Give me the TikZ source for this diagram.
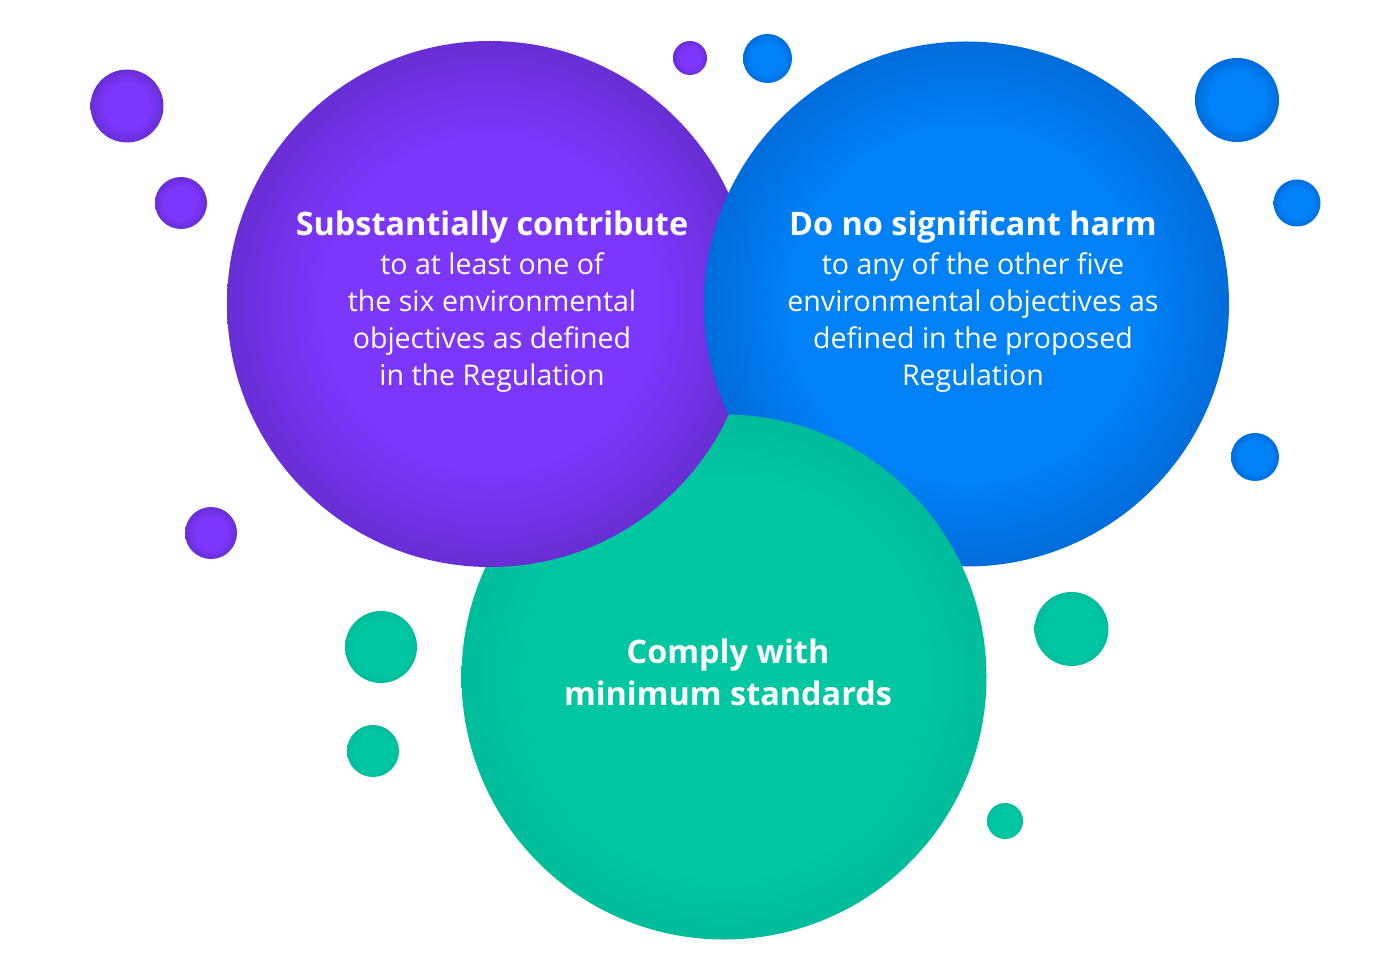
\documentclass[tikz,border=0pt]{standalone}
\usepackage{fontspec}
\setmainfont{Open Sans}
\usetikzlibrary{positioning}

\definecolor{purplemain}{RGB}{124,54,252}
\definecolor{purplerim}{RGB}{104,46,212}
\definecolor{bluemain}{RGB}{0,129,245}
\definecolor{bluerim}{RGB}{0,108,220}
\definecolor{greenmain}{RGB}{0,198,162}
\definecolor{greenrim}{RGB}{0,188,154}

% rim of the circle sits at 25bp
\pgfdeclareradialshading{purplebub}{\pgfpoint{0bp}{0bp}}{color(0bp)=(purplemain); color(16bp)=(purplemain); color(25bp)=(purplerim); color(50bp)=(purplerim)}
\pgfdeclareradialshading{bluebub}{\pgfpoint{0bp}{0bp}}{color(0bp)=(bluemain); color(17bp)=(bluemain); color(25bp)=(bluerim); color(50bp)=(bluerim)}
\pgfdeclareradialshading{greenbub}{\pgfpoint{0bp}{0bp}}{color(0bp)=(greenmain); color(19bp)=(greenmain); color(25bp)=(greenrim); color(50bp)=(greenrim)}

\tikzset{every picture/.style={line width=0.75pt},
  purplefill/.style={shading=purplebub},
  bluefill/.style={shading=bluebub},
  greenfill/.style={shading=greenbub},
  titletext/.style={anchor=base,inner sep=0pt,text=white,align=center,font=\fontsize{24.3pt}{31.5pt}\selectfont\bfseries},
  bodytext/.style={anchor=base,inner sep=0pt,text=white,align=center,font=\fontsize{21.4pt}{27.75pt}\selectfont}}

\begin{document}
\begin{tikzpicture}[x=0.75pt,y=0.75pt,yscale=-1,xscale=1]
\useasboundingbox (0,0) rectangle (1400,980);

%Shape: Circle small purple
\shade [purplefill] (127,106) circle (36.5);
\shade [purplefill] (181,203) circle (26);
\shade [purplefill] (211,533) circle (26);
\shade [purplefill] (690,58) circle (17);
%Shape: Circle small blue
\shade [bluefill] (767.5,58.5) circle (24.5);
\shade [bluefill] (1237,100) circle (42);
\shade [bluefill] (1297,203) circle (23.5);
\shade [bluefill] (1255,457) circle (24);
%Shape: Circle small green
\shade [greenfill] (381,647) circle (36);
\shade [greenfill] (373,751) circle (26);
\shade [greenfill] (1071.5,629) circle (37);
\shade [greenfill] (1005,821) circle (18);

%Shape: Circle big blue
\shade [bluefill] (966.5,304) circle (262.5);
%Shape: Circle big green
\shade [greenfill] (724,677) circle (262.5);
%Shape: Circle big purple
\shade [purplefill] (490,304) circle (263);
%blue again over the purple
\begin{scope}
\clip (490,304) circle (263);
\shade [bluefill] (966.5,304) circle (262.5);
\end{scope}

% Text Node (base = last line)
\node [titletext] (contribTitle) at (492,236) {Substantially contribute};
% Text Node
\node [bodytext] (contribBody) at (492,386) {to at least one of\\the six environmental\\objectives as defined\\in the Regulation};
% Text Node
\node [titletext] (harmTitle) at (973,236) {Do no significant harm};
% Text Node
\node [bodytext] (harmBody) at (973,386) {to any of the other five\\environmental objectives as\\defined in the proposed\\Regulation};
% Text Node
\node [titletext] (complyTitle) at (728,705) {Comply with\\minimum standards};

\end{tikzpicture}
\end{document}
